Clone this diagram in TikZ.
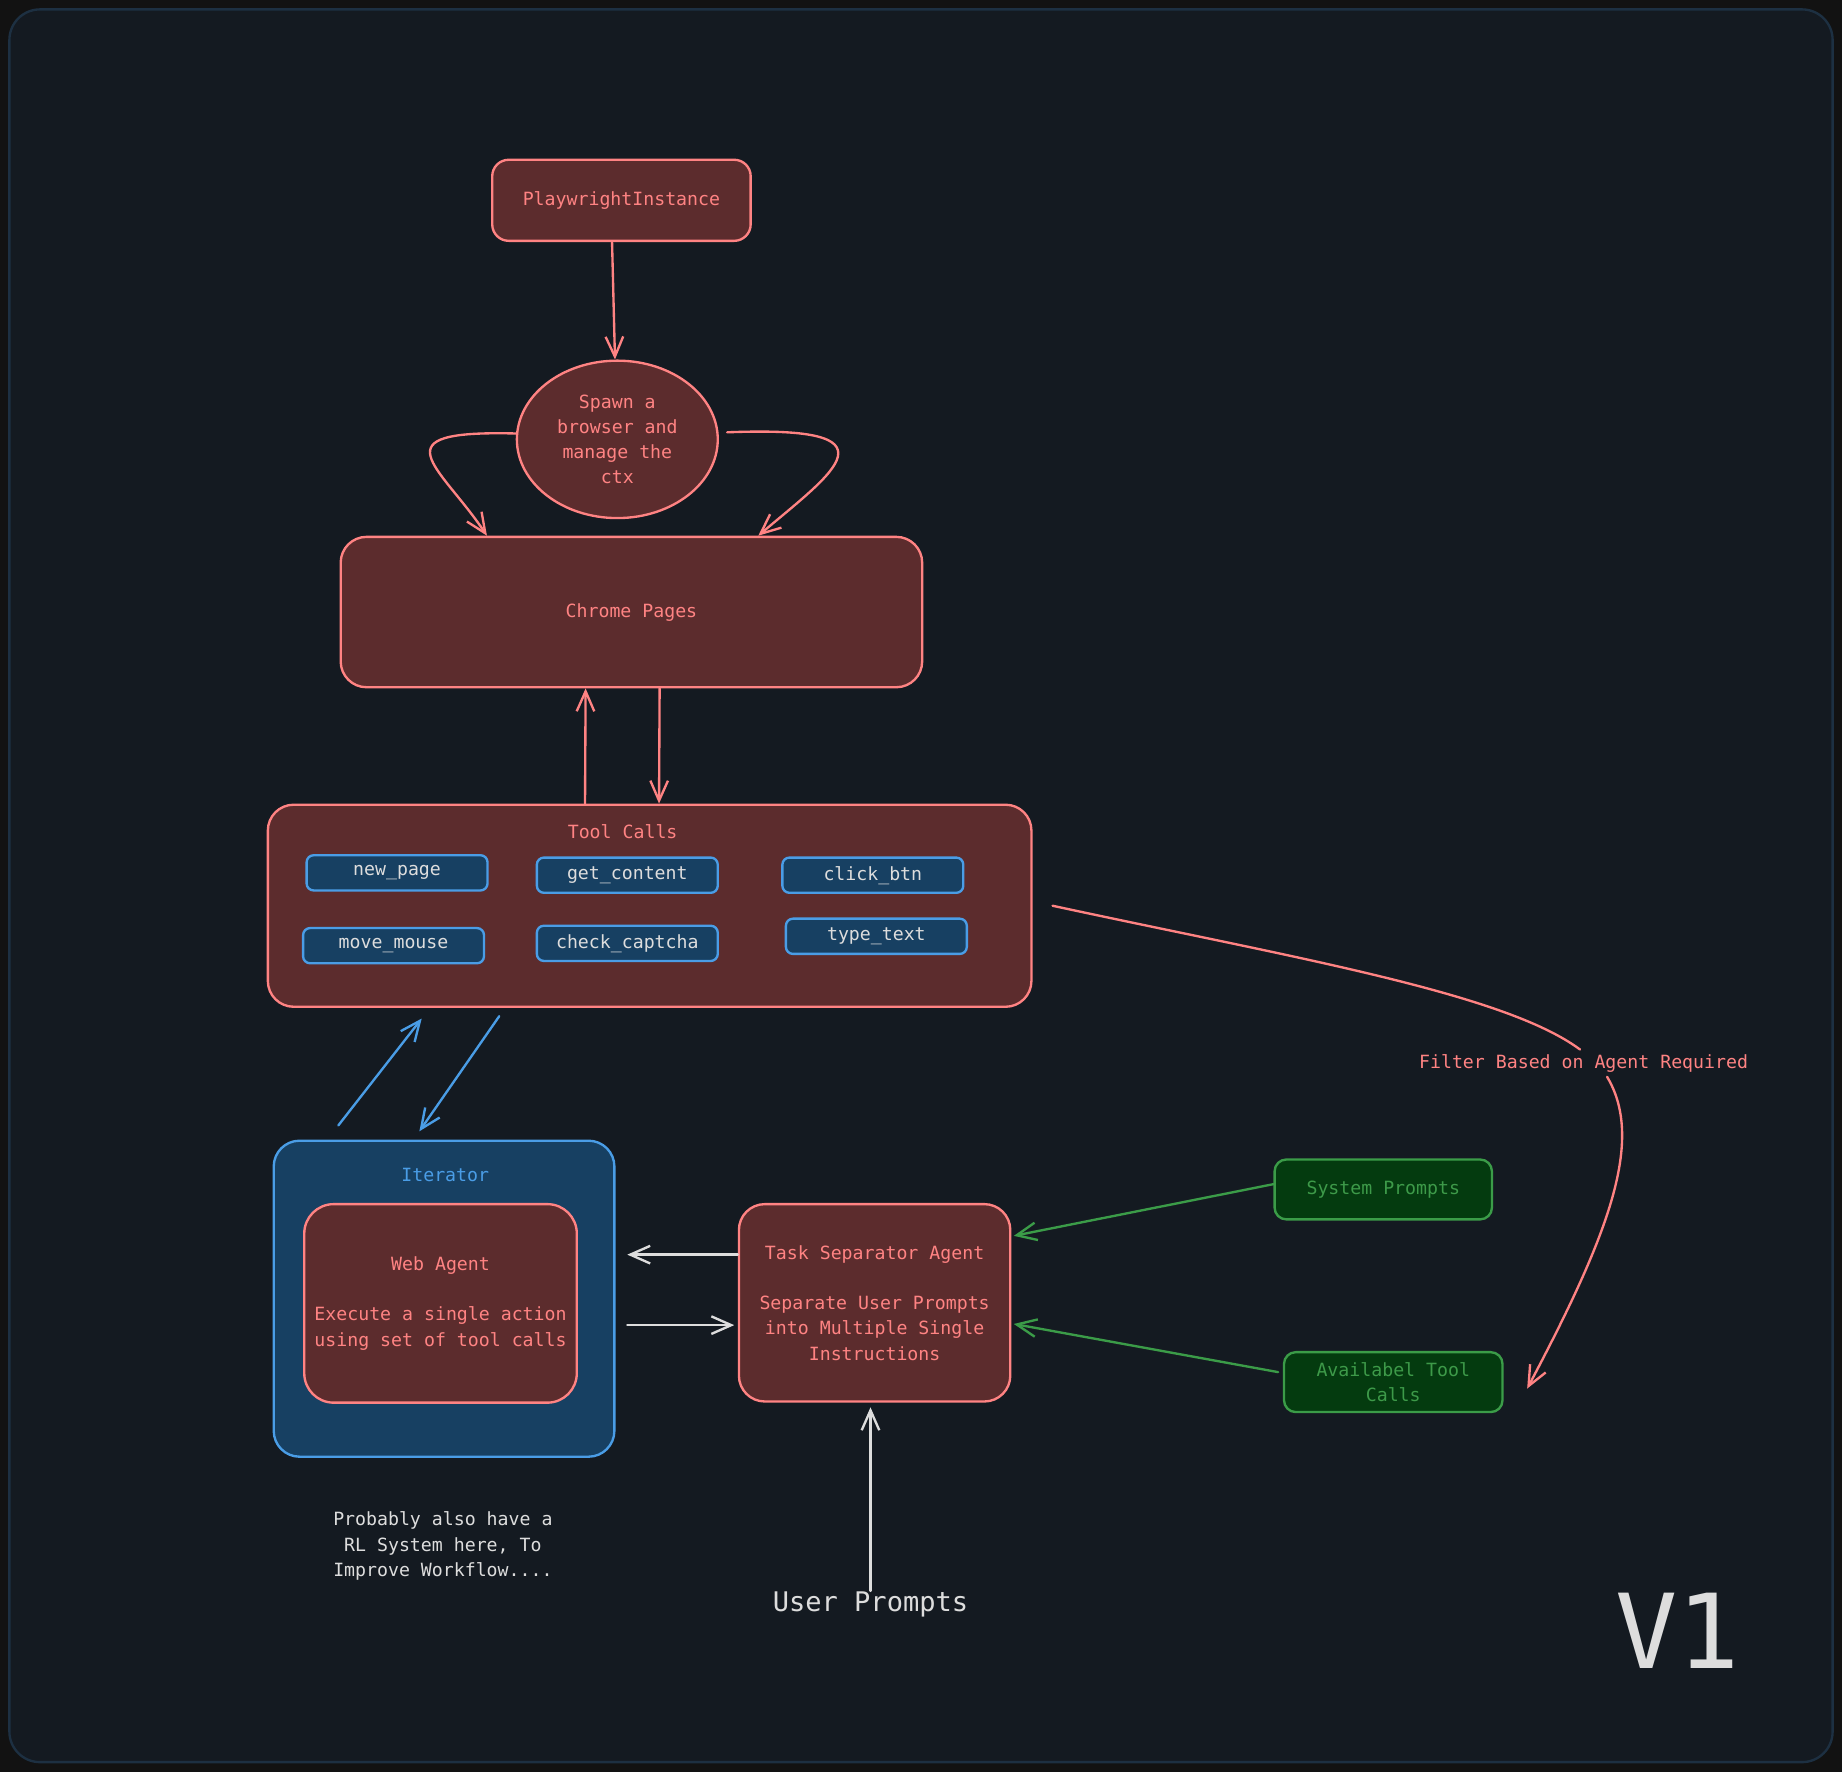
\documentclass[tikz,border=0pt]{standalone}
\usepackage{fontspec}
\setmainfont{DejaVu Sans Mono}
\usetikzlibrary{arrows.meta,shapes.geometric}

\definecolor{pagebg}{HTML}{121212}
\definecolor{canvas}{HTML}{141A21}
\definecolor{framecol}{HTML}{1D3042}
\definecolor{redline}{HTML}{FF8383}
\definecolor{redfill}{HTML}{5C2C2D}
\definecolor{blueline}{HTML}{4A9DE6}
\definecolor{bluefill}{HTML}{174062}
\definecolor{greenline}{HTML}{3B9C48}
\definecolor{greenfill}{HTML}{043B0F}
\definecolor{greentext}{HTML}{3D9A49}
\definecolor{lighttext}{HTML}{DDDDDD}

\tikzset{every picture/.style={line width=2pt}}
\tikzset{
  txt/.style={font=\fontsize{15.5}{21.5}\selectfont, align=center, inner sep=0pt},
  redbox/.style={txt, draw=redline, fill=redfill, text=redline, rounded corners=#1},
  redbox/.default=20pt,
  bluebox/.style={txt, draw=blueline, fill=bluefill, text=#1, rounded corners=22pt},
  toolbox/.style={txt, draw=blueline, fill=bluefill, text=lighttext, rounded corners=6pt,
    minimum width=154pt, minimum height=30pt},
  greenbox/.style={txt, draw=greenline, fill=greenfill, text=greentext, rounded corners=10pt,
    minimum height=51pt},
  arr/.style={-{Straight Barb[length=17pt,width=15pt]}, line cap=round},
}

\begin{document}
\begin{tikzpicture}[x=1pt,y=1pt,yscale=-1,xscale=1]
\useasboundingbox (0,0) rectangle (1568,1508);

%Background
\fill[pagebg] (0,0) rectangle (1568,1508);
\draw[framecol, fill=canvas, rounded corners=26pt] (8,8) rectangle (1560,1500);

%Rounded Rect
\draw (529,170.5) node[redbox=14pt, minimum width=220pt, minimum height=69pt] (play) {PlaywrightInstance};
%Ellipse
\draw (525.5,374) node[txt, ellipse, draw=redline, fill=redfill, text=redline,
  minimum width=171pt, minimum height=134pt] (spawn) {Spawn a\\browser and\\manage the\\ctx};
%Rounded Rect
\draw (537.5,521) node[redbox=22pt, minimum width=495pt, minimum height=128pt] (chrome) {Chrome Pages};

%Rounded Rect
\draw (553,771) node[redbox=22pt, minimum width=650pt, minimum height=172pt] (tools) {};
% Text Node
\draw (530,708) node[txt, text=redline] (toolstitle) {Tool Calls};
% Tool boxes
\draw (338,743) node[toolbox] (newpage) {new\_page};
\draw (534,745) node[toolbox] (getcontent) {get\_content};
\draw (743,745) node[toolbox] (clickbtn) {click\_btn};
\draw (335,805) node[toolbox] (movemouse) {move\_mouse};
\draw (534,803) node[toolbox] (captcha) {check\_captcha};
\draw (746,797) node[toolbox] (typetext) {type\_text};

%Rounded Rect
\draw (378,1105.5) node[bluebox=blueline, minimum width=290pt, minimum height=269pt] (iter) {};
% Text Node
\draw (379,1000) node[txt, text=blueline] (itertitle) {Iterator};
%Rounded Rect
\draw (375,1109.5) node[redbox=25pt, minimum width=232pt, minimum height=169pt] (web)
  {Web Agent\\[21.5pt]Execute a single action\\using set of tool calls};
%Rounded Rect
\draw (744.5,1109) node[redbox=22pt, minimum width=231pt, minimum height=168pt] (task)
  {Task Separator Agent\\[21.5pt]Separate User Prompts\\into Multiple Single\\Instructions};

%Green boxes
\draw (1177.5,1012.5) node[greenbox, minimum width=185pt] (sys) {System Prompts};
\draw (1186,1176.5) node[greenbox, minimum width=186pt] (avail) {Availabel Tool\\Calls};

% Text Node
\draw (377,1316) node[txt, text=lighttext] (note) {Probably also have a\\RL System here, To\\Improve Workflow....};
% Text Node
\draw (741,1366) node[txt, text=lighttext, font=\fontsize{23}{28}\selectfont] (user) {User Prompts};
% Text Node
\draw (1428,1388) node[txt, text=lighttext, font=\fontsize{88}{90}\selectfont] (version) {V1};
% Text Node
\draw (1348,905) node[txt, text=redline, fill=canvas, inner sep=3pt] (filter) {Filter Based on Agent Required};

%Straight Lines
\draw[arr, redline] ([xshift=-8pt]play.south) -- ([xshift=-2pt]spawn.north);
%Curve Lines
\draw[arr, redline] ([yshift=-5pt]spawn.west) .. controls +(-120,-3) and +(-40,-60) .. ([xshift=-123pt]chrome.north);
\draw[arr, redline] ([xshift=7pt,yshift=-6pt]spawn.east) .. controls +(150,-6) and +(65,-55) .. ([xshift=108pt]chrome.north);
%Straight Lines
\draw[arr, redline] ([xshift=-55pt]tools.north) -- ([xshift=-39pt]chrome.south);
\draw[arr, redline] ([xshift=24pt]chrome.south) -- ([xshift=8pt]tools.north);
%Straight Lines
\draw[arr, blueline] ([xshift=-90pt,yshift=-12pt]iter.north) -- ([xshift=-194pt,yshift=9pt]tools.south);
\draw[arr, blueline] ([xshift=-128pt,yshift=7pt]tools.south) -- ([xshift=-21pt,yshift=-7pt]iter.north);
%Straight Lines
\draw[arr, lighttext] ([yshift=-41pt]task.west) -- ([xshift=10pt,yshift=-37.5pt]iter.east);
\draw[arr, lighttext] ([xshift=10pt,yshift=22.5pt]iter.east) -- ([xshift=-3pt,yshift=19pt]task.west);
\draw[arr, lighttext] (user.north) -- ([xshift=-3.5pt,yshift=4pt]task.south);
%Straight Lines
\draw[arr, greenline] ([yshift=-4.5pt]sys.west) -- ([xshift=2pt,yshift=-57pt]task.east);
\draw[arr, greenline] ([xshift=-4pt,yshift=-8.5pt]avail.west) -- ([xshift=2pt,yshift=18pt]task.east);
%Curve Lines
\coordinate (filterend) at (1300,1182);
\draw[redline, line cap=round] ([xshift=17pt]tools.east) .. controls (1100,815) and (1280,845) .. ([xshift=-3pt]filter.north);
\draw[arr, redline] ([xshift=20pt]filter.south) .. controls (1400,970) and (1370,1050) .. (filterend);

\end{tikzpicture}
\end{document}
